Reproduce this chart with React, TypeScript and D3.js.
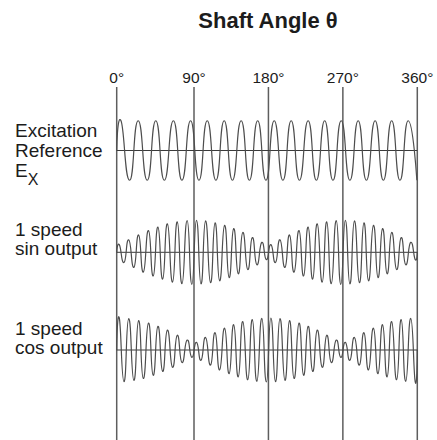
import * as d3 from "d3";

// shaft angle ticks
const tickAngles = [0, 90, 180, 270, 360];
const tickLabels = ["0°", "90°", "180°", "270°", "360°"];

// excitation reference: turning points of the carrier (deg) and their levels
const excitationAngles = [
  0, 5, 15, 25, 35.5, 45.5, 55.5, 66, 76, 86, 96, 106, 116.5, 126.5, 136.5, 147, 157, 167, 177,
  187, 197.5, 207.5, 217.5, 228, 238, 248, 258, 268, 278.5, 288.5, 298.5, 309, 319, 329, 339, 349,
  359.5,
];
const excitation = [
  0, 0.93, -0.93, 0.93, -0.93, 0.93, -0.93, 0.93, -0.93, 0.93, -0.93, 0.93, -0.93, 0.93, -0.93,
  0.93, -0.93, 0.93, -0.93, 0.93, -0.93, 0.93, -0.93, 0.93, -0.93, 0.93, -0.93, 0.93, -0.93, 0.93,
  -0.93, 0.93, -0.93, 0.93, -0.93, 0.93, -0.93,
];

// 1 speed outputs: turning points (deg), shared by sin and cos
const outputAngles = [
  0, 3, 8.5, 14, 20, 25.5, 31, 37, 42.5, 48, 53.5, 59, 65, 70.5, 76, 82, 87.5, 93, 98.5, 104, 110,
  115.5, 121, 127, 132.5, 138, 143.5, 149, 155, 160.5, 166, 172, 177.5, 183, 188.5, 194, 200,
  205.5, 211, 217, 222.5, 228, 233.5, 239, 245, 250.5, 256, 262, 267.5, 273, 278.5, 284, 290,
  295.5, 301, 307, 312.5, 318, 323.5, 329, 335, 340.5, 346, 352, 357.5, 360,
];
const sinOutput = [
  0, 0.24, -0.32, 0.39, -0.47, 0.54, -0.62, 0.68, -0.74, 0.79, -0.84, 0.89, -0.93, 0.95, -0.98,
  0.99, -1.0, 1.0, -0.99, 0.98, -0.95, 0.92, -0.89, 0.84, -0.79, 0.74, -0.67, 0.62, -0.54, 0.46,
  -0.39, 0.31, -0.23, 0.24, -0.32, 0.39, -0.47, 0.54, -0.62, 0.68, -0.74, 0.79, -0.84, 0.89,
  -0.93, 0.95, -0.98, 0.99, -1.0, 1.0, -0.99, 0.98, -0.95, 0.92, -0.89, 0.84, -0.79, 0.74, -0.67,
  0.62, -0.54, 0.46, -0.39, 0.31, -0.23, 0,
];
const cosOutput = [
  0, 1.0, -0.99, 0.98, -0.95, 0.92, -0.89, 0.84, -0.79, 0.74, -0.67, 0.62, -0.54, 0.46, -0.39,
  0.31, -0.23, 0.24, -0.32, 0.39, -0.47, 0.54, -0.62, 0.68, -0.74, 0.79, -0.84, 0.89, -0.93, 0.95,
  -0.98, 0.99, -1.0, 1.0, -0.99, 0.98, -0.95, 0.92, -0.89, 0.84, -0.79, 0.74, -0.67, 0.62, -0.54,
  0.46, -0.39, 0.31, -0.23, 0.24, -0.32, 0.39, -0.47, 0.54, -0.62, 0.68, -0.74, 0.79, -0.84, 0.89,
  -0.93, 0.95, -0.98, 0.99, -1.0, 0,
];

const font = "'Liberation Sans', Arial, sans-serif";
const textColor = "#1c1c1c";

export default function App() {
  const width = 437;
  const height = 440;

  // the original drawing is a bit wider in the first quadrant
  const x = d3.scaleLinear().domain([0, 90, 360]).range([116.7, 194, 417.3]);

  const rows = [
    { angles: excitationAngles, values: excitation, center: 150.5 },
    { angles: outputAngles, values: sinOutput, center: 252.3 },
    { angles: outputAngles, values: cosOutput, center: 350 },
  ];

  // negative tension gives the rounded, steep-sided loops of the scope trace
  const makePath = (angles: number[], values: number[], center: number) => {
    const y = d3.scaleLinear().domain([-1, 1]).range([center + 32, center - 32]);
    const line = d3
      .line<number>()
      .x((d, i) => x(angles[i]))
      .y((d) => y(d))
      .curve(d3.curveCardinal.tension(-0.7));
    return line(values) || "";
  };

  return (
    <svg
      width={width}
      height={height}
      style={{ position: "absolute", left: 0, top: 0, background: "#fff" }}
      fontFamily={font}
    >
      <text x={268} y={28} textAnchor="middle" fontSize={22} fontWeight="bold" fill={textColor}>
        Shaft Angle θ
      </text>

      {tickAngles.map((a, i) => (
        <g key={a}>
          <text x={x(a)} y={83} textAnchor="middle" fontSize={15.5} fill={textColor}>
            {tickLabels[i]}
          </text>
          <line x1={x(a)} x2={x(a)} y1={87} y2={height} stroke="#5e5e5e" strokeWidth={1.5} />
        </g>
      ))}

      {rows.map((r, i) => (
        <g key={i}>
          <line
            x1={x(0)}
            x2={x(360)}
            y1={r.center}
            y2={r.center}
            stroke="#3a3a3a"
            strokeWidth={1}
          />
          <path
            d={makePath(r.angles, r.values, r.center)}
            fill="none"
            stroke="#4d4d4d"
            strokeWidth={1.2}
          />
        </g>
      ))}

      {/* row labels */}
      <g fontSize={19} fill={textColor}>
        <text x={15} y={137}>Excitation</text>
        <text x={15} y={156.5}>Reference</text>
        <text x={15} y={176.5}>
          E<tspan fontSize={16} dy={8}>X</tspan>
        </text>
        <text x={15} y={235.5}>1 speed</text>
        <text x={15} y={255}>sin output</text>
        <text x={15} y={334.5}>1 speed</text>
        <text x={15} y={354}>cos output</text>
      </g>
    </svg>
  );
}
